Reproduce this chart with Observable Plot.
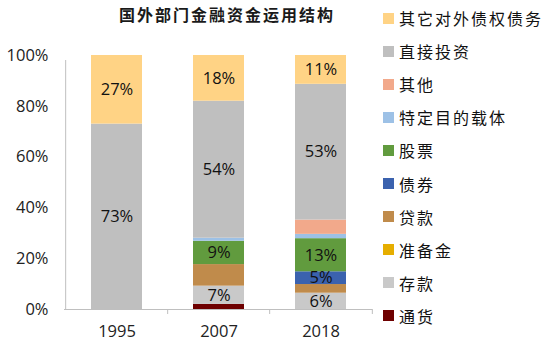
<!DOCTYPE html>
<html><head><meta charset="utf-8">
<script src="https://cdn.jsdelivr.net/npm/d3@7"></script>
<script src="https://cdn.jsdelivr.net/npm/@observablehq/plot@0.6"></script>
<style>
body{margin:0;background:#fff;}
#wrap{position:relative;width:550px;height:343px;overflow:hidden;background:#fff;}
#chart{position:absolute;left:0;top:0;}
#title{position:absolute;left:0;width:454px;top:2px;text-align:center;font:bold 16px "Noto Sans CJK SC";letter-spacing:2px;color:#1a1a1a;line-height:24px;}
#legend{position:absolute;left:383px;top:0;width:167px;height:343px;}
.item{position:absolute;left:0;display:flex;align-items:center;white-space:nowrap;font:16px "Noto Sans CJK SC";letter-spacing:2px;line-height:20px;color:#111;}
.sw{width:11px;height:11px;margin-right:5px;flex:none;}
</style></head>
<body>
<div id="wrap">
  <div id="chart"></div>
  <div id="title">国外部门金融资金运用结构</div>
  <div id="legend"></div>
</div>
<script>
// categories
const years = ["1995", "2007", "2018"];
// series, stacked bottom-up
const series = ["通货", "存款", "准备金", "贷款", "债券", "股票", "特定目的载体", "其他", "直接投资", "其它对外债权债务"];
const colors = ["#6e0000", "#c9c9c9", "#e6ae00", "#c08b4b", "#3b62ae", "#619b3e", "#9dc1e6", "#f2a98b", "#bfbfbf", "#ffd385"];
// values (%) per series for 1995, 2007, 2018
const currency   = [0, 2.0, 0];
const deposits   = [0, 7.2, 6.4];
const reserves   = [0, 0, 0];
const loans      = [0, 8.5, 3.4];
const bonds      = [0, 0, 5.0];
const equities   = [0, 9.2, 13.0];
const spv        = [0, 1.2, 1.7];
const others     = [0, 0, 5.6];
const fdi        = [73, 54, 53.3];
const otherClaims= [27, 18, 11.3];
const seriesValues = [currency, deposits, reserves, loans, bonds, equities, spv, others, fdi, otherClaims];
// which segments carry a value label
const labeled1995 = ["直接投资", "其它对外债权债务"];
const labeled2007 = ["存款", "股票", "直接投资", "其它对外债权债务"];
const labeled2018 = ["存款", "债券", "股票", "直接投资", "其它对外债权债务"];
const labeledBy = {"1995": labeled1995, "2007": labeled2007, "2018": labeled2018};
const yTicks = [0, 0.2, 0.4, 0.6, 0.8, 1];

const data = [];
series.forEach((s, i) => years.forEach((y, j) => data.push({year: y, series: s, value: seriesValues[i][j]})));

const W = 550, H = 343, ml = 64, mr = 178, mt = 55, mb = 34;
const step = (W - ml - mr) / years.length;
const axisColor = "#bfbfbf";

const chart = Plot.plot({
  width: W, height: H,
  marginLeft: ml, marginRight: mr, marginTop: mt, marginBottom: mb,
  style: {fontFamily: "Open Sans", fontSize: "16.5px", color: "#222", background: "transparent"},
  x: {domain: years, paddingInner: 0.5, paddingOuter: 0.25, tickSize: 0, tickPadding: 16, label: null},
  y: {domain: [0, 1], ticks: yTicks, tickSize: 0, tickPadding: 16, tickFormat: d3.format(".0%"), label: null},
  color: {domain: series, range: colors},
  marks: [
    Plot.barY(data, Plot.stackY({x: "year", y: "value", fill: "series", order: series, offset: "normalize"})),
    Plot.text(data, Plot.stackY({
      x: "year", y: "value", z: "series", order: series, offset: "normalize",
      text: d => labeledBy[d.year].includes(d.series) ? Math.round(d.value) + "%" : "",
      fill: "#111", fontSize: 16.5
    })),
    Plot.ruleY([0], {stroke: axisColor, strokeWidth: 1}),
    Plot.ruleX([years[0]], {x: d => d, dx: -step / 2, y1: 0, y2: 1, insetBottom: -5, stroke: axisColor}),
    Plot.ruleX(years.slice(1), {x: d => d, dx: -step / 2, y1: 0, y2: 0, insetBottom: -5, stroke: axisColor}),
    Plot.ruleX([years[years.length - 1]], {x: d => d, dx: step / 2, y1: 0, y2: 0, insetBottom: -5, stroke: axisColor})
  ]
});
document.getElementById("chart").appendChild(chart);

const legend = document.getElementById("legend");
series.slice().reverse().forEach((s, i) => {
  const it = document.createElement("div");
  it.className = "item";
  it.style.top = (8 + i * 33.1) + "px";
  const sw = document.createElement("span");
  sw.className = "sw";
  sw.style.background = colors[series.indexOf(s)];
  const t = document.createElement("span");
  t.textContent = s;
  it.appendChild(sw); it.appendChild(t);
  legend.appendChild(it);
});
</script>
</body></html>
